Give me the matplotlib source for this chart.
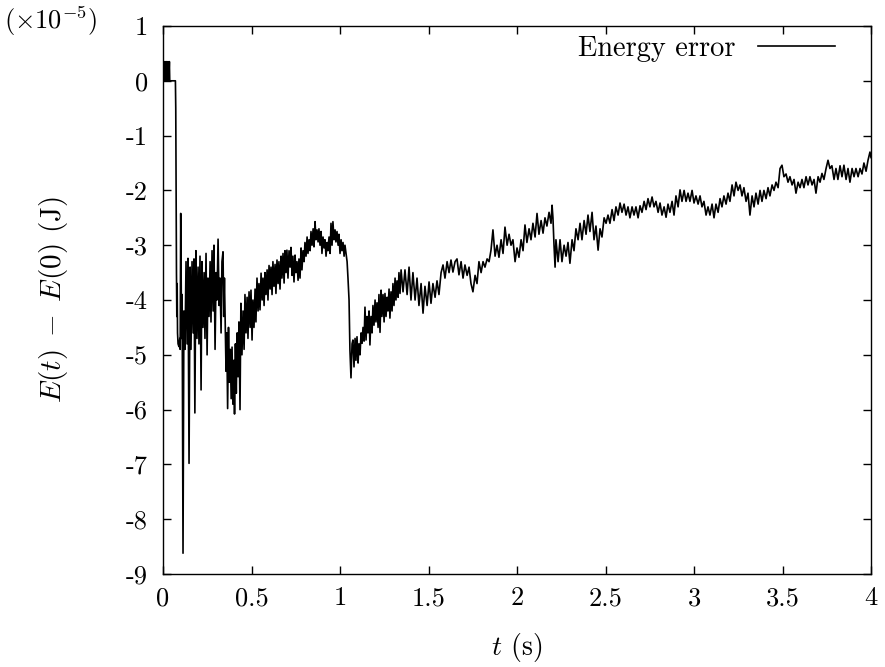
"""Energy error E(t) - E(0) over a 4 s run, gnuplot/LaTeX look."""

import matplotlib

matplotlib.use("Agg")

import matplotlib.pyplot as plt  # noqa: E402
import numpy as np  # noqa: E402

# --- data (units of 1e-5 J) ------------------------------------------------
# start: small jitter at zero, then the sudden drop
t_start = [0.0, 0.004, 0.008, 0.012, 0.016, 0.02, 0.024, 0.028, 0.032, 0.036,
           0.038, 0.07, 0.072, 0.074, 0.076, 0.078, 0.08, 0.082, 0.085, 0.09,
           0.095, 0.097, 0.1]
de_start = [0.0, 0.35, 0.0, 0.35, 0.0, 0.35, 0.0, 0.35, 0.0, 0.35,
            0.0, 0.0, -0.5, -2.0, -3.5, -4.3, -3.7, -4.6, -4.8, -4.85,
            -4.7, -4.9, -2.42]

# large oscillations up to the trough near 0.4 s
t_early = [0.105, 0.108, 0.113, 0.118, 0.124, 0.13, 0.136, 0.141, 0.147, 0.153,
           0.158, 0.164, 0.17, 0.175, 0.18, 0.186, 0.192, 0.198, 0.203, 0.209,
           0.215, 0.22, 0.226, 0.232, 0.237, 0.243, 0.249, 0.254, 0.26, 0.266,
           0.271, 0.277, 0.283, 0.288, 0.294, 0.3, 0.305, 0.311, 0.317, 0.322,
           0.328, 0.333, 0.339, 0.343, 0.347, 0.352, 0.356, 0.36, 0.365, 0.37,
           0.375, 0.38, 0.385, 0.39, 0.395, 0.4, 0.404, 0.409, 0.414, 0.419,
           0.424, 0.429, 0.435, 0.44, 0.446, 0.452, 0.458, 0.463, 0.469, 0.475,
           0.48, 0.486, 0.492, 0.497]
de_early = [-4.7, -3.9, -8.62, -4.2, -4.9, -3.3, -4.8, -3.24, -6.98, -3.4,
            -4.9, -3.3, -4.6, -3.25, -6.06, -3.1, -4.7, -3.4, -4.8, -3.2,
            -5.64, -3.3, -4.5, -3.5, -4.7, -3.15, -5.0, -3.6, -4.3, -3.3,
            -4.4, -3.1, -4.2, -3.0, -4.9, -3.5, -4.0, -2.89, -4.1, -3.6,
            -4.6, -3.3, -3.12, -4.3, -3.6, -4.5, -5.3, -4.6, -5.98, -4.5,
            -5.5, -4.9, -5.8, -4.86, -5.9, -5.1, -6.08, -4.8, -5.7, -4.6,
            -5.4, -4.4, -6.0, -4.06, -5.0, -4.2, -4.9, -3.9, -4.6, -3.95,
            -4.7, -3.85, -4.5, -3.82]

# recovery, then the drop at about 1.05 s
t_mid = [0.503, 0.508, 0.514, 0.52, 0.525, 0.531, 0.537, 0.542, 0.548, 0.554,
         0.56, 0.565, 0.571, 0.576, 0.582, 0.588, 0.593, 0.599, 0.605, 0.61,
         0.616, 0.621, 0.627, 0.633, 0.638, 0.644, 0.65, 0.655, 0.661, 0.667,
         0.672, 0.678, 0.684, 0.689, 0.695, 0.7, 0.706, 0.712, 0.718, 0.723,
         0.729, 0.734, 0.74, 0.746, 0.751, 0.757, 0.763, 0.768, 0.774, 0.78,
         0.785, 0.791, 0.797, 0.802, 0.808, 0.814, 0.819, 0.825, 0.831, 0.836,
         0.842, 0.848, 0.853, 0.859, 0.864, 0.87, 0.876, 0.881, 0.887, 0.893,
         0.898, 0.904, 0.91, 0.915, 0.921, 0.927, 0.932, 0.938, 0.944, 0.949,
         0.955, 0.96, 0.966, 0.972, 0.977, 0.983, 0.989, 0.994, 1.0, 1.006,
         1.011, 1.017, 1.023, 1.028, 1.034, 1.04, 1.045, 1.051, 1.056, 1.062,
         1.068, 1.073, 1.079, 1.085, 1.09, 1.096, 1.102, 1.107, 1.113, 1.119,
         1.124, 1.13, 1.136, 1.141, 1.147, 1.153, 1.158, 1.164, 1.169, 1.175,
         1.181, 1.186, 1.192, 1.198, 1.203, 1.209, 1.215, 1.22, 1.226, 1.232,
         1.237, 1.243, 1.249, 1.254, 1.26, 1.266, 1.271, 1.277, 1.282, 1.288,
         1.294, 1.299, 1.305, 1.311, 1.316, 1.322, 1.328, 1.333, 1.339, 1.345]
de_mid = [-4.73, -4.0, -4.5, -3.8, -4.4, -3.6, -4.2, -3.7, -4.18, -3.51,
          -4.0, -3.6, -4.1, -3.5, -3.9, -3.45, -4.0, -3.37, -3.8, -3.4,
          -3.9, -3.3, -3.75, -3.35, -3.88, -3.27, -3.7, -3.3, -3.8, -3.2,
          -3.6, -3.15, -3.69, -3.1, -3.5, -3.09, -3.6, -3.1, -3.4, -3.04,
          -3.55, -3.2, -3.67, -3.18, -3.5, -3.3, -3.64, -3.25, -3.6, -3.05,
          -3.45, -3.1, -3.3, -2.95, -3.2, -2.85, -3.15, -2.9, -3.1, -2.75,
          -3.0, -2.7, -3.03, -2.57, -2.9, -2.72, -2.94, -2.7, -3.0, -2.75,
          -3.15, -2.85, -3.05, -2.9, -3.2, -2.95, -3.1, -2.85, -3.15, -2.6,
          -3.0, -2.57, -2.9, -2.72, -2.94, -2.75, -3.0, -2.8, -3.15, -2.9,
          -3.1, -2.95, -3.2, -3.0, -3.15, -3.3, -3.6, -4.0, -4.91, -5.42,
          -4.8, -4.73, -5.22, -4.7, -5.1, -4.67, -5.15, -4.8, -5.0, -4.6,
          -4.79, -4.5, -4.75, -4.13, -4.73, -4.3, -4.6, -4.2, -4.82, -4.3,
          -4.6, -4.1, -4.46, -4.0, -4.4, -4.05, -4.5, -3.9, -4.59, -3.82,
          -4.3, -3.9, -4.4, -3.88, -4.3, -3.95, -4.2, -3.8, -4.33, -3.85,
          -4.2, -3.7, -4.1, -3.6, -4.0, -3.65, -3.95, -3.5, -3.88, -3.45]

# slow upward drift to the end
t_late = [1.356, 1.367, 1.379, 1.39, 1.401, 1.412, 1.424, 1.435, 1.446, 1.458,
          1.469, 1.48, 1.492, 1.503, 1.514, 1.525, 1.537, 1.548, 1.559, 1.571,
          1.582, 1.593, 1.605, 1.616, 1.627, 1.638, 1.65, 1.661, 1.672, 1.684,
          1.695, 1.706, 1.718, 1.729, 1.74, 1.751, 1.763, 1.774, 1.785, 1.797,
          1.808, 1.819, 1.831, 1.842, 1.853, 1.864, 1.876, 1.887, 1.898, 1.91,
          1.921, 1.932, 1.944, 1.955, 1.966, 1.977, 1.989, 2.0, 2.011, 2.023,
          2.034, 2.045, 2.056, 2.068, 2.079, 2.09, 2.102, 2.113, 2.124, 2.136,
          2.147, 2.158, 2.169, 2.181, 2.192, 2.198, 2.203, 2.209, 2.215, 2.22,
          2.232, 2.243, 2.254, 2.266, 2.277, 2.288, 2.299, 2.311, 2.322, 2.333,
          2.345, 2.356, 2.367, 2.379, 2.39, 2.401, 2.412, 2.424, 2.435, 2.446,
          2.458, 2.469, 2.48, 2.492, 2.503, 2.514, 2.525, 2.537, 2.548, 2.559,
          2.571, 2.582, 2.593, 2.605, 2.616, 2.627, 2.638, 2.65, 2.661, 2.672,
          2.684, 2.695, 2.706, 2.718, 2.729, 2.74, 2.751, 2.763, 2.774, 2.785,
          2.797, 2.808, 2.819, 2.831, 2.842, 2.853, 2.864, 2.876, 2.887, 2.898,
          2.91, 2.921, 2.932, 2.944, 2.955, 2.966, 2.977, 2.989, 3.0, 3.011,
          3.023, 3.034, 3.045, 3.056, 3.068, 3.079, 3.09, 3.102, 3.113, 3.124,
          3.136, 3.147, 3.158, 3.169, 3.181, 3.192, 3.203, 3.215, 3.226, 3.237,
          3.249, 3.26, 3.271, 3.282, 3.294, 3.305, 3.316, 3.328, 3.339, 3.35,
          3.362, 3.373, 3.384, 3.395, 3.407, 3.418, 3.429, 3.441, 3.452, 3.463,
          3.475, 3.486, 3.497, 3.508, 3.52, 3.531, 3.542, 3.554, 3.565, 3.576,
          3.588, 3.599, 3.61, 3.621, 3.633, 3.644, 3.655, 3.667, 3.678, 3.689,
          3.701, 3.712, 3.723, 3.734, 3.746, 3.757, 3.768, 3.779, 3.791, 3.802,
          3.813, 3.825, 3.836, 3.847, 3.859, 3.87, 3.881, 3.893, 3.904, 3.915,
          3.927, 3.938, 3.949, 3.96, 3.972, 3.983, 3.994, 4.0]
de_late = [-3.85, -3.45, -3.9, -3.4, -4.0, -3.5, -4.0, -3.6, -4.1, -3.7,
           -4.24, -3.75, -4.1, -3.67, -4.06, -3.7, -3.95, -3.65, -3.9, -3.5,
           -3.36, -3.6, -3.3, -3.5, -3.27, -3.49, -3.3, -3.25, -3.54, -3.3,
           -3.6, -3.36, -3.55, -3.4, -3.7, -3.85, -3.55, -3.7, -3.3, -3.5,
           -3.3, -3.4, -3.25, -3.3, -3.09, -2.72, -3.2, -3.0, -3.22, -2.9,
           -3.15, -2.67, -3.0, -2.8, -3.0, -2.9, -3.3, -3.05, -3.22, -2.9,
           -3.1, -2.63, -2.95, -2.7, -2.9, -2.6, -2.85, -2.42, -2.8, -2.55,
           -2.78, -2.5, -2.65, -2.4, -2.6, -2.27, -2.5, -3.0, -3.4, -2.9,
           -3.3, -2.9, -3.3, -3.0, -3.2, -2.95, -3.33, -2.9, -3.1, -2.7,
           -2.9, -2.6, -2.9, -2.55, -2.8, -2.45, -2.75, -2.4, -2.9, -2.65,
           -3.09, -2.7, -2.85, -2.5, -2.6, -2.45, -2.6, -2.35, -2.55, -2.3,
           -2.45, -2.23, -2.4, -2.25, -2.45, -2.3, -2.5, -2.3, -2.45, -2.3,
           -2.5, -2.28, -2.4, -2.2, -2.35, -2.15, -2.3, -2.12, -2.3, -2.2,
           -2.4, -2.23, -2.45, -2.3, -2.49, -2.25, -2.4, -2.2, -2.45, -2.1,
           -2.3, -1.99, -2.2, -2.0, -2.2, -2.05, -2.2, -2.0, -2.23, -2.1,
           -2.25, -2.1, -2.3, -2.2, -2.45, -2.3, -2.45, -2.25, -2.5, -2.25,
           -2.4, -2.15, -2.3, -2.1, -2.25, -2.05, -2.2, -1.9, -2.1, -1.85,
           -2.0, -1.9, -2.1, -1.95, -2.2, -2.05, -2.45, -2.1, -2.3, -2.05,
           -2.25, -2.0, -2.2, -2.0, -2.15, -1.95, -2.1, -1.9, -2.0, -1.85,
           -1.95, -1.6, -1.54, -1.75, -1.7, -1.85, -1.75, -1.9, -1.8, -2.05,
           -1.85, -1.95, -1.8, -1.95, -1.75, -1.9, -1.75, -1.9, -1.8, -2.05,
           -1.75, -1.85, -1.69, -1.8, -1.6, -1.45, -1.6, -1.55, -1.8, -1.6,
           -1.8, -1.55, -1.75, -1.54, -1.8, -1.6, -1.85, -1.6, -1.75, -1.6,
           -1.75, -1.6, -1.7, -1.5, -1.65, -1.45, -1.3, -1.4]

x_ticks = [0, 0.5, 1, 1.5, 2, 2.5, 3, 3.5, 4]
x_tick_labels = ["0", "0.5", "1", "1.5", "2", "2.5", "3", "3.5", "4"]
y_ticks = [1, 0, -1, -2, -3, -4, -5, -6, -7, -8, -9]
y_tick_labels = ["1", "0", "-1", "-2", "-3", "-4", "-5", "-6", "-7", "-8", "-9"]

t = np.concatenate([t_start, t_early, t_mid, t_late])
de = np.concatenate([de_start, de_early, de_mid, de_late])

# --- style: Computer Modern, like a gnuplot epslatex figure -----------------
FONT_SIZE = 19
plt.rcParams.update(
    {
        "font.family": "cmr10",
        "mathtext.fontset": "cm",
        "axes.unicode_minus": False,
        "axes.formatter.use_mathtext": True,
        "font.size": FONT_SIZE,
    }
)

fig = plt.figure(figsize=(8.85, 6.67), dpi=100)
ax = fig.add_axes([0.1842, 0.1394, 0.80, 0.8216])

ax.plot(t, de, color="black", linewidth=1.2, label="Energy error")

ax.set_xlim(0, 4)
ax.set_ylim(-9, 1)
ax.set_xticks(x_ticks)
ax.set_xticklabels(x_tick_labels)
ax.set_yticks(y_ticks)
ax.set_yticklabels(y_tick_labels)
ax.tick_params(direction="in", length=5.5, width=1.0, top=True, right=True,
               labelsize=FONT_SIZE)
ax.tick_params(axis="x", pad=9)
ax.tick_params(axis="y", pad=11)
for spine in ax.spines.values():
    spine.set_linewidth(1.0)

ax.set_xlabel(r"$t$ (s)", fontsize=20, labelpad=15)
ax.set_ylabel(r"$E(t)\; -\; E(0)$ (J)", fontsize=21, labelpad=40)

fig.text(97 / 885, 1 - 21 / 667, r"$(\times 10^{-5})$", ha="right", va="center",
         fontsize=FONT_SIZE)

# key sits tight in the top right corner, sample line after the text
ax.legend(loc="upper right", bbox_to_anchor=(0.949, 0.983), frameon=False,
          markerfirst=False, handlelength=2.7, handletextpad=0.8,
          borderpad=0.0, borderaxespad=0.0, fontsize=20.5)

fig.savefig("out.png", dpi=100)
